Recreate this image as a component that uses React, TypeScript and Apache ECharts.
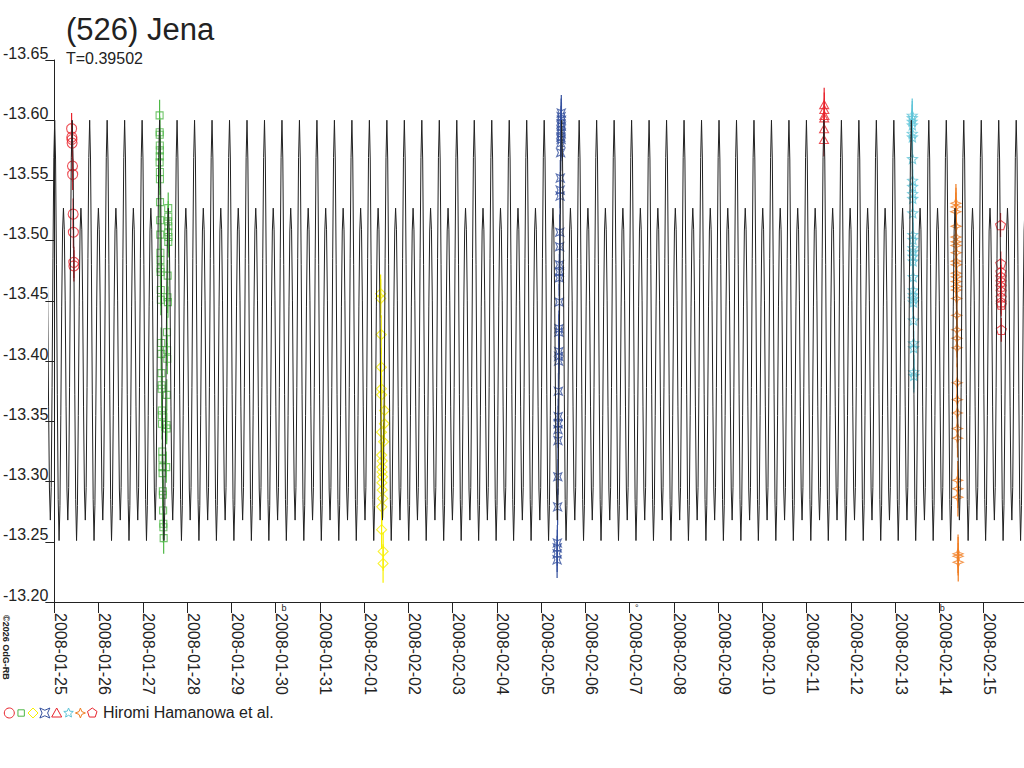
import React, { useEffect, useRef } from 'react';
import * as echarts from 'echarts';

// time axis: days after 2008-01-25 0h UT
const X_MIN = -0.1125;
const X_MAX = 21.91;
const PERIOD = 0.39502;
const EPOCH = 0.008; // phase 0 = brighter maximum

const dateLabels = [
  '2008-01-25', '2008-01-26', '2008-01-27', '2008-01-28', '2008-01-29', '2008-01-30',
  '2008-01-31', '2008-02-01', '2008-02-02', '2008-02-03', '2008-02-04', '2008-02-05',
  '2008-02-06', '2008-02-07', '2008-02-08', '2008-02-09', '2008-02-10', '2008-02-11',
  '2008-02-12', '2008-02-13', '2008-02-14', '2008-02-15',
];
const dayTicks = dateLabels.map((_, i) => i);

// one rotation of the model lightcurve, 20 phase steps
const modelShape = [
  -13.600, -13.567, -13.480, -13.372, -13.285, -13.251, -13.280, -13.355, -13.445, -13.508,
  -13.527, -13.509, -13.450, -13.362, -13.293, -13.268, -13.295, -13.378, -13.485, -13.569,
];

const moonPhases = [
  { t: 5.19, glyph: 'b' },
  { t: 13.16, glyph: '°' },
  { t: 20.06, glyph: 'b' },
];

// observations per night
const circleT = [0.390, 0.395, 0.398, 0.401, 0.410, 0.414, 0.425, 0.430, 0.440, 0.442];
const circleMag = [-13.593, -13.586, -13.584, -13.581, -13.562, -13.555, -13.522, -13.507, -13.482, -13.479];

const squareT = [
  2.378, 2.380, 2.381, 2.383, 2.384, 2.382, 2.379, 2.385, 2.386, 2.388, 2.391, 2.393, 2.396, 2.397, 2.399, 2.400,
  2.404, 2.406, 2.414, 2.416, 2.420, 2.423, 2.424, 2.428, 2.430, 2.432, 2.440, 2.442, 2.444, 2.446, 2.452, 2.454,
  2.458, 2.462, 2.464, 2.470,
  2.573, 2.575, 2.570, 2.576, 2.572, 2.578, 2.574, 2.560, 2.556, 2.566, 2.545, 2.548, 2.552, 2.540, 2.536, 2.538, 2.528,
];
const squareMag = [
  -13.604, -13.590, -13.588, -13.579, -13.575, -13.570, -13.565, -13.557, -13.551, -13.532, -13.517, -13.505,
  -13.490, -13.484, -13.477, -13.474, -13.459, -13.451, -13.415, -13.406, -13.390, -13.380, -13.377, -13.359,
  -13.355, -13.348, -13.325, -13.319, -13.312, -13.307, -13.292, -13.289, -13.276, -13.265, -13.262, -13.253,
  -13.527, -13.520, -13.516, -13.512, -13.507, -13.503, -13.499, -13.471, -13.453, -13.449, -13.424, -13.409,
  -13.402, -13.372, -13.347, -13.344, -13.312,
];

const diamondT = [
  7.372, 7.374, 7.386, 7.388, 7.390, 7.395, 7.462, 7.458, 7.392, 7.440, 7.396,
  7.410, 7.400, 7.405, 7.415, 7.402, 7.408, 7.420, 7.398, 7.394, 7.430, 7.428,
];
const diamondMag = [
  -13.456, -13.452, -13.422, -13.395, -13.377, -13.372, -13.359, -13.348, -13.341, -13.333, -13.322,
  -13.317, -13.312, -13.308, -13.304, -13.299, -13.293, -13.286, -13.279, -13.260, -13.242, -13.232,
];

const bowtieT = [
  11.455, 11.452, 11.458, 11.450, 11.456, 11.448, 11.453, 11.446, 11.451, 11.444, 11.440, 11.432,
  11.430, 11.428, 11.420, 11.418, 11.414, 11.412, 11.410, 11.408, 11.402, 11.400, 11.398, 11.396,
  11.394, 11.390, 11.386, 11.384, 11.382, 11.380, 11.376, 11.372, 11.366, 11.364, 11.362, 11.360,
];
const bowtieMag = [
  -13.606, -13.603, -13.600, -13.597, -13.595, -13.592, -13.589, -13.586, -13.584, -13.581, -13.573, -13.552,
  -13.542, -13.537, -13.507, -13.495, -13.480, -13.474, -13.469, -13.449, -13.427, -13.424, -13.408, -13.404,
  -13.400, -13.375, -13.354, -13.348, -13.343, -13.334, -13.304, -13.279, -13.249, -13.245, -13.240, -13.235,
];

const triangleT = [17.395, 17.398, 17.400, 17.396, 17.393, 17.390];
const triangleMag = [-13.613, -13.609, -13.604, -13.602, -13.593, -13.584];

const starT = [
  19.384, 19.386, 19.383, 19.387, 19.385, 19.388, 19.390, 19.392, 19.393, 19.394, 19.395, 19.396, 19.398, 19.399,
  19.400, 19.401, 19.402, 19.403, 19.405, 19.407, 19.408, 19.409, 19.410, 19.412, 19.415, 19.416, 19.420, 19.421,
];
const starMag = [
  -13.604, -13.602, -13.599, -13.596, -13.589, -13.586, -13.568, -13.550, -13.545, -13.539, -13.535, -13.523,
  -13.505, -13.501, -13.494, -13.491, -13.487, -13.483, -13.470, -13.459, -13.455, -13.452, -13.449, -13.434,
  -13.415, -13.411, -13.391, -13.388,
];

const sparkT = [
  20.372, 20.374, 20.370, 20.376, 20.373, 20.378, 20.375, 20.380, 20.377, 20.382, 20.379, 20.384, 20.381, 20.386,
  20.383, 20.388, 20.390, 20.392, 20.394, 20.396, 20.400, 20.402, 20.404, 20.406, 20.408, 20.412, 20.414, 20.416,
  20.420, 20.422, 20.424,
];
const sparkMag = [
  -13.531, -13.528, -13.524, -13.512, -13.503, -13.499, -13.496, -13.490, -13.483, -13.480, -13.473, -13.470,
  -13.466, -13.462, -13.459, -13.452, -13.438, -13.426, -13.419, -13.411, -13.382, -13.368, -13.357, -13.344,
  -13.336, -13.301, -13.294, -13.287, -13.240, -13.238, -13.233,
];

const pentagonT = [21.380, 21.385, 21.387, 21.389, 21.390, 21.391, 21.392, 21.393, 21.394, 21.395, 21.398];
const pentagonMag = [-13.513, -13.481, -13.474, -13.470, -13.466, -13.462, -13.458, -13.453, -13.449, -13.447, -13.426];

const RED = '#e8232c';
const GREEN = '#4fb847';
const YELLOW = '#f8f000';
const BLUE = '#34509e';
const CYAN = '#5ec4d8';
const ORANGE = '#f07d22';
const INK = '#222222';
const FONT = '"Liberation Sans", Arial, sans-serif';

const shapes: Record<string, number[][]> = {
  square: [[-1, -1], [1, -1], [1, 1], [-1, 1]],
  diamond: [[0, -1], [1, 0], [0, 1], [-1, 0]],
  bowtie: [[-1, -1], [0, -0.55], [1, -1], [0.55, 0], [1, 1], [0, 0.55], [-1, 1], [-0.55, 0]],
  triangle: [[0, -1], [1, 0.8], [-1, 0.8]],
  star5: [
    [0, -1], [0.264, -0.364], [0.951, -0.309], [0.428, 0.139], [0.588, 0.809],
    [0, 0.45], [-0.588, 0.809], [-0.428, 0.139], [-0.951, -0.309], [-0.264, -0.364],
  ],
  star4: [[0, -1], [0.28, -0.28], [1, 0], [0.28, 0.28], [0, 1], [-0.28, 0.28], [-1, 0], [-0.28, -0.28]],
  pentagon: [[0, -1], [0.951, -0.309], [0.588, 0.809], [-0.588, 0.809], [-0.951, -0.309]],
};

const toPath = (pts: number[][]) =>
  'path://' + pts.map((p, i) => (i ? 'L' : 'M') + p[0] + ' ' + p[1]).join(' ') + 'Z';

const groups = [
  { color: RED, shape: 'circle', size: 10, t: circleT, mag: circleMag, err: 0.013 },
  { color: GREEN, shape: 'square', size: 7, t: squareT, mag: squareMag, err: 0.013 },
  { color: YELLOW, shape: 'diamond', size: 10, t: diamondT, mag: diamondMag, err: 0.016 },
  { color: BLUE, shape: 'bowtie', size: 8, t: bowtieT, mag: bowtieMag, err: 0.015 },
  { color: RED, shape: 'triangle', size: 9, t: triangleT, mag: triangleMag, err: 0.014 },
  { color: CYAN, shape: 'star5', size: 10, t: starT, mag: starMag, err: 0.014 },
  { color: ORANGE, shape: 'star4', size: 10, t: sparkT, mag: sparkMag, err: 0.016 },
  { color: RED, shape: 'pentagon', size: 10, t: pentagonT, mag: pentagonMag, err: 0.01 },
];

const App: React.FC = () => {
  const chartRef = useRef<HTMLDivElement>(null);

  useEffect(() => {
    document.body.style.margin = '0';
    if (!chartRef.current) return;
    const chart = echarts.init(chartRef.current, null, { renderer: 'svg' });

    const modelData: number[][] = [];
    for (let k = -1; EPOCH + k * PERIOD < X_MAX + PERIOD; k++) {
      modelShape.forEach((m, i) => {
        modelData.push([EPOCH + (k + i / modelShape.length) * PERIOD, m]);
      });
    }

    const errorSeries = groups.map((g) => ({
      type: 'custom',
      clip: true,
      silent: true,
      data: g.t.map((t, i) => [t, g.mag[i] - g.err, g.mag[i] + g.err]),
      encode: { x: 0, y: [1, 2] },
      renderItem: (_params: any, api: any) => {
        const p1 = api.coord([api.value(0), api.value(1)]);
        const p2 = api.coord([api.value(0), api.value(2)]);
        return {
          type: 'line',
          shape: { x1: p1[0], y1: p1[1], x2: p2[0], y2: p2[1] },
          style: { stroke: g.color, lineWidth: 1.2 },
        };
      },
    }));

    const pointSeries = groups.map((g) => ({
      type: 'scatter',
      silent: true,
      symbol: g.shape === 'circle' ? 'circle' : toPath(shapes[g.shape]),
      symbolKeepAspect: true,
      symbolSize: g.size,
      itemStyle: { color: 'transparent', borderColor: g.color, borderWidth: 1.1 },
      data: g.t.map((t, i) => [t, g.mag[i]]),
    }));

    chart.setOption({
      animation: false,
      grid: { left: 45, right: 0, top: 60, bottom: 166, containLabel: false },
      xAxis: {
        type: 'value',
        min: X_MIN,
        max: X_MAX,
        splitLine: { show: false },
        axisLine: { show: true, lineStyle: { color: INK, width: 1 } },
        axisTick: { show: true, length: 11, customValues: dayTicks, lineStyle: { color: INK } },
        axisLabel: {
          customValues: dayTicks,
          formatter: (v: number) => dateLabels[Math.round(v)] ?? '',
          rotate: -90,
          align: 'left',
          verticalAlign: 'bottom',
          lineHeight: 12,
          margin: 11,
          fontSize: 16,
          fontFamily: FONT,
          color: INK,
        },
      },
      yAxis: {
        type: 'value',
        inverse: true,
        min: -13.65,
        max: -13.2,
        interval: 0.05,
        splitLine: { show: false },
        axisLine: { show: true, lineStyle: { color: INK, width: 1 } },
        axisTick: { show: true, length: 9, lineStyle: { color: INK } },
        axisLabel: {
          formatter: (v: number) => v.toFixed(2),
          verticalAlign: 'bottom',
          lineHeight: 14,
          margin: 1,
          fontSize: 16,
          fontFamily: FONT,
          color: INK,
        },
      },
      series: [
        {
          type: 'line',
          silent: true,
          showSymbol: false,
          clip: true,
          lineStyle: { color: INK, width: 1 },
          data: modelData,
        },
        ...errorSeries,
        ...pointSeries,
      ],
    });

    const axisY = chart.convertToPixel({ yAxisIndex: 0 }, -13.2) as number;
    const moonEls = moonPhases.map((p) => ({
      type: 'text',
      x: chart.convertToPixel({ xAxisIndex: 0 }, p.t) as number,
      y: axisY + 6,
      style: { text: p.glyph, fontSize: 9, fontFamily: FONT, fill: INK, align: 'center', verticalAlign: 'middle' },
    }));

    const legendEls = groups.map((g, i) => {
      const cx = 9.3 + 11.85 * i;
      const cy = 713;
      const r = g.shape === 'square' ? 3.2 : 5;
      const style = { fill: 'none', stroke: g.color, lineWidth: 1 };
      if (g.shape === 'circle') return { type: 'circle', shape: { cx, cy, r }, style };
      return {
        type: 'polygon',
        shape: { points: shapes[g.shape].map((p) => [cx + p[0] * r, cy + p[1] * r]) },
        style,
      };
    });

    chart.setOption({
      graphic: [
        {
          type: 'text', x: 66, y: 29,
          style: { text: '(526) Jena', fontSize: 31, fontFamily: FONT, fill: INK, verticalAlign: 'middle' },
        },
        {
          type: 'text', x: 66, y: 58,
          style: { text: 'T=0.39502', fontSize: 16, fontFamily: FONT, fill: INK, verticalAlign: 'middle' },
        },
        {
          type: 'text', x: 103, y: 712,
          style: { text: 'Hiromi Hamanowa et al.', fontSize: 16, fontFamily: FONT, fill: INK, verticalAlign: 'middle' },
        },
        {
          type: 'text', x: 1, y: 615, rotation: -Math.PI / 2,
          style: { text: '©2026 OdG-RB', fontSize: 9, fontWeight: 'bold', fontFamily: FONT, fill: INK, align: 'left', verticalAlign: 'bottom' },
        },
        ...legendEls,
        ...moonEls,
      ],
    });

    return () => {
      chart.dispose();
    };
  }, []);

  return <div ref={chartRef} style={{ width: '1024px', height: '768px' }}></div>;
};

export default App;
